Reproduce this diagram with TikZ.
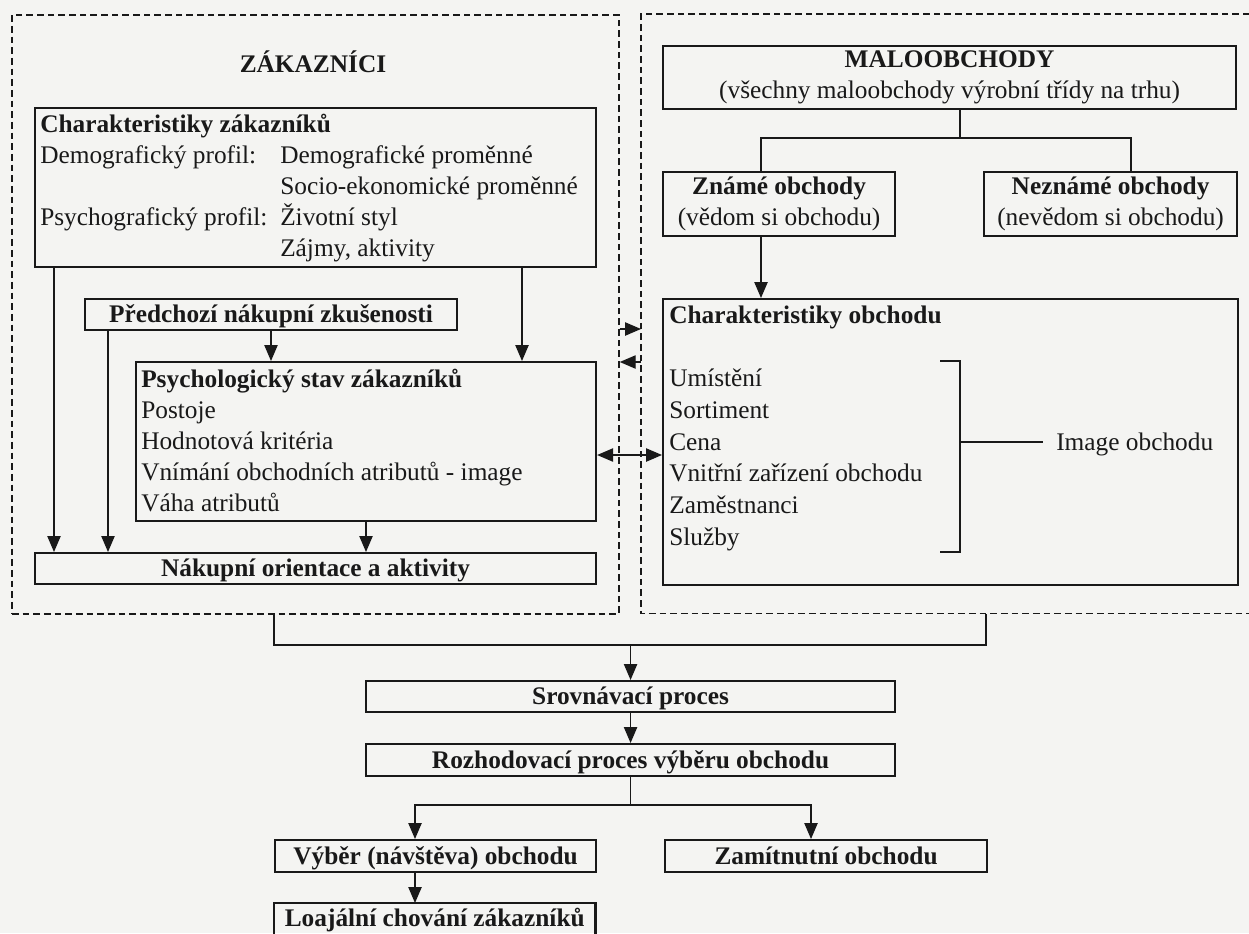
\documentclass[tikz,border=0pt]{standalone}
\usepackage{fontspec}
\setmainfont{Liberation Serif}
\usetikzlibrary{arrows.meta,calc}
\definecolor{bgcol}{RGB}{244,244,242}
\definecolor{ink}{RGB}{25,25,25}
\newcommand\mkbox[7]{\node[#6,minimum width={(#4-#2)*0.75pt},minimum height={(#5-#3)*0.75pt}] (#1) at (#2,#3) {#7};}
\begin{document}
\begin{tikzpicture}[x=0.75pt,y=-0.75pt,
  font=\fontsize{19}{23.25}\selectfont, color=ink,
  box/.style={draw, line width=1.6pt, inner sep=0pt, anchor=north west, text height=15pt, text depth=3pt},
  mbox/.style={draw, line width=1.6pt, inner sep=0pt, anchor=north west, align=center},
  plain/.style={inner sep=0pt, anchor=north west, text height=15pt, text depth=3pt},
  boxline/.style={line width=1.6pt},
  cont/.style={draw, dash pattern=on 5pt off 3pt, line width=1.3pt, inner sep=0pt, anchor=north west},
  contline/.style={dash pattern=on 5pt off 3pt, line width=1.3pt},
  txt/.style={inner sep=0pt, anchor=base west},
  conn/.style={line width=1pt},
  arr/.style={conn, -{Triangle[length=12pt,width=10pt]}},
  darr/.style={conn, {Triangle[length=12pt,width=10pt]}-{Triangle[length=12pt,width=10pt]}},
]
\fill[bgcol] (0,0) rectangle (1249,933);
\useasboundingbox (0,0) rectangle (1249,933);

% containers
\mkbox{zak}{11}{14}{618}{613}{cont}{}
\node[inner sep=0pt, anchor=north west, minimum width={(1249-641)*0.75pt}, minimum height={(613-14)*0.75pt}] (obch) at (641,14) {};
\draw[contline] (obch.north east) -- (obch.north west) -- (obch.south west) -- (obch.south east);

% left side
\node[inner sep=0pt] (zaktitle) at (313,62) {\bfseries ZÁKAZNÍCI};

\mkbox{charz}{34}{107}{595}{266}{box}{}
\node[txt] (cz0) at (40,132) {\bfseries Charakteristiky zákazníků};
\node[txt] (cz1) at (40,163) {Demografický profil:};
\node[txt] (cz2) at (280,163) {Demografické proměnné};
\node[txt] (cz3) at (280,194) {Socio-ekonomické proměnné};
\node[txt] (cz4) at (40,225) {Psychografický profil:};
\node[txt] (cz5) at (280,225) {Životní styl};
\node[txt] (cz6) at (280,256) {Zájmy, aktivity};

\mkbox{prev}{84}{298}{456}{329}{box}{\bfseries Předchozí nákupní zkušenosti}

\mkbox{psych}{135}{361}{595}{520}{box}{}
\node[txt] (ps0) at (141,387) {\bfseries Psychologický stav zákazníků};
\node[txt] (ps1) at (141,418) {Postoje};
\node[txt] (ps2) at (141,449) {Hodnotová kritéria};
\node[txt] (ps3) at (141,480) {Vnímání obchodních atributů - image};
\node[txt] (ps4) at (141,511) {Váha atributů};

\mkbox{nak}{34}{552}{595}{583}{box}{\bfseries Nákupní orientace a aktivity}

\coordinate (xa) at (54,0);
\coordinate (xb) at (108,0);
\coordinate (xc) at (271,0);
\coordinate (xd) at (522,0);
\coordinate (xe) at (366,0);
\draw[arr] (charz.south -| xa) -- (nak.north -| xa);
\draw[arr] (charz.south -| xd) -- (psych.north -| xd);
\draw[arr] (prev.south -| xb) -- (nak.north -| xb);
\draw[arr] (prev.south -| xc) -- (psych.north -| xc);
\draw[arr] (psych.south -| xe) -- (nak.north -| xe);

% right side
\mkbox{malo}{662}{45}{1235}{108}{mbox}{\textbf{MALOOBCHODY}\\(všechny maloobchody výrobní třídy na trhu)}
\mkbox{known}{662}{171}{894}{235}{mbox}{\textbf{Známé obchody}\\(vědom si obchodu)}
\mkbox{unknown}{983}{171}{1236}{235}{mbox}{\textbf{Neznámé obchody}\\(nevědom si obchodu)}

\coordinate (fk) at (0,138);
\coordinate (xf) at (960,0);
\coordinate (xg) at (761,0);
\coordinate (xh) at (1131,0);
\draw[conn] (malo.south -| xf) -- (xf |- fk);
\draw[conn] (known.north -| xg) |- (xh |- fk) -- (unknown.north -| xh);

\mkbox{chob}{662}{298}{1237}{584}{box}{}
\draw[arr] (known.south -| xg) -- (chob.north -| xg);
\node[txt] (ch0) at (669,323) {\bfseries Charakteristiky obchodu};
\node[txt] (ch1) at (669,386) {Umístění};
\node[txt] (ch2) at (669,418) {Sortiment};
\node[txt] (ch3) at (669,450) {Cena};
\node[txt] (ch4) at (669,481) {Vnitřní zařízení obchodu};
\node[txt] (ch5) at (669,513) {Zaměstnanci};
\node[txt] (ch6) at (669,545) {Služby};

\coordinate (brt) at (940,361);
\coordinate (brb) at (940,552);
\coordinate (brm) at (960,442);
\draw[boxline] (brt) -- (brt -| brm) -- (brb -| brm) -- (brb);
\node[inner sep=0pt, anchor=west, text height=15pt, text depth=3pt] (img) at (1056,442) {Image obchodu};
\coordinate (imgl) at (1043,442);
\draw[conn] (brm) -- (imgl);

% arrows between the two parts
\coordinate (ya) at (0,329);
\coordinate (yb) at (0,362);
\coordinate (yc) at (0,455);
\draw[arr] (zak.east |- ya) -- (obch.west |- ya);
\draw[arr] (obch.west |- yb) -- (zak.east |- yb);
\draw[darr] (psych.east |- yc) -- (chob.west |- yc);

% bottom
\mkbox{srov}{365}{680}{894}{711}{box}{\bfseries Srovnávací proces}
\mkbox{rozh}{365}{743}{894}{775}{box}{\bfseries Rozhodovací proces výběru obchodu}
\mkbox{vyb}{274}{839}{595}{871}{box}{\bfseries Výběr (návštěva) obchodu}
\mkbox{zam}{664}{839}{986}{871}{box}{\bfseries Zamítnutní obchodu}
\mkbox{loaj}{274}{903}{595}{933}{plain}{\bfseries Loajální chování zákazníků}
\draw[boxline] (loaj.south west) -- (loaj.north west) -- (loaj.north east) -- (loaj.south east);

\coordinate (xl) at (274,0);
\coordinate (xr) at (986,0);
\coordinate (yj) at (0,645);
\coordinate (yk) at (0,805);
\coordinate (xv) at (415,0);
\coordinate (xz) at (811,0);
\draw[conn] (zak.south -| xl) |- (xr |- yj) -- (obch.south -| xr);
\draw[arr] (srov.north |- yj) -- (srov.north);
\draw[arr] (srov.south) -- (rozh.north);
\draw[conn] (rozh.south) -- (rozh.south |- yk);
\draw[arr] (rozh.south |- yk) -| (vyb.north -| xv);
\draw[arr] (rozh.south |- yk) -| (zam.north -| xz);
\draw[arr] (vyb.south -| xv) -- (loaj.north -| xv);
\end{tikzpicture}
\end{document}
